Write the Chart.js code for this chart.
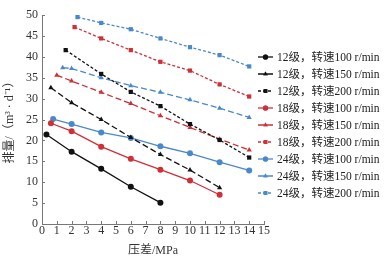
<!DOCTYPE html>
<html>
<head>
<meta charset="utf-8">
<script src="https://cdn.jsdelivr.net/npm/chart.js@4/dist/chart.umd.min.js"></script>
<style>
  html, body { margin: 0; padding: 0; background: #fff; }
  #wrap { width: 390px; height: 261px; }
</style>
</head>
<body>
<div id="wrap"><canvas id="pumpChart" width="390" height="261"></canvas></div>
<script>
// series labels
const seriesNames = [
    '12级，转速100 r/min', '12级，转速150 r/min', '12级，转速200 r/min',
    '18级，转速100 r/min', '18级，转速150 r/min', '18级，转速200 r/min',
    '24级，转速100 r/min', '24级，转速150 r/min', '24级，转速200 r/min'
];

// pressure difference (MPa) per series
const x12_100 = [0.3, 2, 4, 6, 8];
const x12_150 = [0.6, 2, 4, 6, 8, 10, 12];
const x12_200 = [1.6, 4, 6, 8, 10, 12, 14];
const x18_100 = [0.6, 2, 4, 6, 8, 10, 12];
const x18_150 = [1.0, 2, 4, 6, 8, 10, 12, 14];
const x18_200 = [2.2, 4, 6, 8, 10, 12, 14];
const x24_100 = [0.75, 2, 4, 6, 8, 10, 12, 14];
const x24_150 = [1.4, 2, 4, 6, 8, 10, 12, 14];
const x24_200 = [2.4, 4, 6, 8, 10, 12, 14];

// displacement (m3/d)
const y12_100 = [21.4, 17.3, 13.2, 8.9, 5.1];
const y12_150 = [32.6, 29.0, 25.0, 20.7, 16.6, 12.9, 8.7];
const y12_200 = [41.6, 35.9, 31.6, 28.2, 23.9, 20.1, 15.9];
const y18_100 = [24.1, 22.2, 18.5, 15.6, 13.0, 10.4, 7.0];
const y18_150 = [35.6, 34.2, 31.5, 28.8, 25.9, 23.1, 20.3, 17.7];
const y18_200 = [47.1, 44.4, 41.6, 38.8, 36.7, 33.4, 30.5];
const y24_100 = [25.1, 23.9, 21.9, 20.6, 18.6, 16.9, 14.8, 12.8];
const y24_150 = [37.4, 37.2, 35.0, 33.1, 31.5, 29.7, 27.7, 25.5];
const y24_200 = [49.5, 48.1, 46.6, 44.4, 42.3, 40.4, 37.7];

const xTicks = [0, 1, 2, 3, 4, 5, 6, 7, 8, 9, 10, 11, 12, 13, 14, 15];
const yTicks = [0, 5, 10, 15, 20, 25, 30, 35, 40, 45, 50];

const xs = [x12_100, x12_150, x12_200, x18_100, x18_150, x18_200, x24_100, x24_150, x24_200];
const ys = [y12_100, y12_150, y12_200, y18_100, y18_150, y18_200, y24_100, y24_150, y24_200];

const BLACK = '#111111';
const RED = '#cf2f36';
const BLUE = '#4a88cc';
const colors = [BLACK, BLACK, BLACK, RED, RED, RED, BLUE, BLUE, BLUE];
const shapes = ['circle', 'triangle', 'rect'];
const dashes = [[], [6, 3], [3, 2]];

const serif = '"Liberation Serif", "Noto Sans CJK SC", serif';

const datasets = seriesNames.map((name, i) => ({
    label: name,
    data: xs[i].map((x, j) => ({ x: x, y: ys[i][j] })),
    borderColor: colors[i],
    backgroundColor: colors[i],
    borderWidth: 1.3,
    borderDash: dashes[i % 3],
    pointStyle: shapes[i % 3],
    pointRadius: 3,
    pointBorderWidth: 0,
    tension: 0
}));

// inward tick marks
const innerTicks = {
    id: 'innerTicks',
    afterDraw(chart) {
        const ctx = chart.ctx;
        const xs = chart.scales.x, ys = chart.scales.y;
        const a = chart.chartArea;
        ctx.save();
        ctx.strokeStyle = '#777';
        ctx.lineWidth = 1;
        ctx.beginPath();
        xTicks.forEach(v => {
            const px = Math.round(xs.getPixelForValue(v)) + 0.5;
            ctx.moveTo(px, a.bottom);
            ctx.lineTo(px, a.bottom - 3);
        });
        yTicks.forEach(v => {
            const py = Math.round(ys.getPixelForValue(v)) + 0.5;
            ctx.moveTo(a.left, py);
            ctx.lineTo(a.left + 3, py);
        });
        ctx.stroke();
        ctx.restore();
    }
};

// legend drawn on the right, overlapping the plot edge
const sideLegend = {
    id: 'sideLegend',
    afterDraw(chart) {
        const ctx = chart.ctx;
        ctx.save();
        ctx.font = '11.5px ' + serif;
        ctx.textBaseline = 'middle';
        chart.data.datasets.forEach((ds, i) => {
            const y = 57 + i * 17;
            ctx.strokeStyle = ds.borderColor;
            ctx.fillStyle = ds.borderColor;
            ctx.lineWidth = 1.3;
            ctx.setLineDash(ds.borderDash);
            ctx.beginPath();
            ctx.moveTo(258, y);
            ctx.lineTo(273, y);
            ctx.stroke();
            ctx.setLineDash([]);
            Chart.helpers.drawPoint(ctx, { pointStyle: ds.pointStyle, radius: 2.6, rotation: 0, borderWidth: 0 }, 265.5, y);
            ctx.fill();
            ctx.fillStyle = '#222';
            ctx.fillText(ds.label, 277, y + 1);
        });
        ctx.restore();
    }
};

new Chart(document.getElementById('pumpChart'), {
    type: 'line',
    data: { datasets: datasets },
    options: {
        responsive: false,
        animation: false,
        layout: { padding: { top: 15, right: 126, left: 0, bottom: 0 } },
        plugins: {
            legend: { display: false },
            tooltip: { enabled: false }
        },
        scales: {
            x: {
                type: 'linear',
                min: 0,
                max: 15,
                afterFit: s => { s.height = 37; },
                afterBuildTicks: s => { s.ticks = xTicks.map(v => ({ value: v })); },
                grid: { display: false, drawTicks: false },
                border: { color: '#777', width: 1 },
                ticks: { color: '#333', font: { family: serif, size: 12 }, padding: 0, maxRotation: 0, autoSkip: false },
                title: { display: true, text: '压差/MPa', color: '#333', font: { family: serif, size: 12 }, padding: { top: 0, bottom: 3 } }
            },
            y: {
                min: 0,
                max: 50,
                afterFit: s => { s.width = 42; },
                afterBuildTicks: s => { s.ticks = yTicks.map(v => ({ value: v })); },
                grid: { display: false, drawTicks: false },
                border: { color: '#777', width: 1 },
                ticks: { color: '#333', font: { family: serif, size: 12 }, padding: 4 },
                title: { display: true, text: '排量/（m³ · d⁻¹）', color: '#333', font: { family: serif, size: 12 }, padding: { top: 3, bottom: 0 } }
            }
        }
    },
    plugins: [innerTicks, sideLegend]
});
</script>
</body>
</html>
